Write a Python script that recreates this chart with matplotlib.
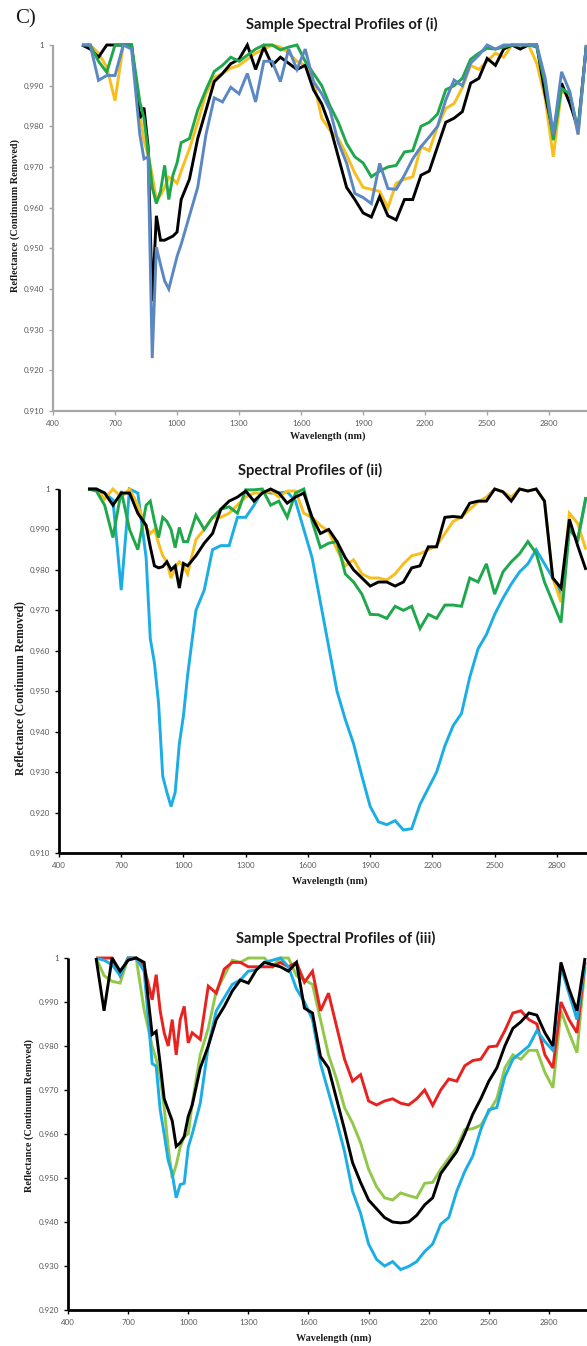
import numpy as np
import matplotlib
matplotlib.use('Agg')
import matplotlib.pyplot as plt
from matplotlib.ticker import FuncFormatter

# wavelengths (nm) shared by all profiles
wavelengths = [540, 580, 620, 660, 700, 740, 780, 820,
               840, 860, 880, 900, 920, 940, 960, 980, 1000,
               1020, 1060, 1100, 1140, 1180, 1220, 1260, 1300,
               1340, 1380, 1420, 1460, 1500, 1540, 1580, 1620,
               1660, 1700, 1740, 1780, 1820, 1860, 1900, 1940,
               1980, 2020, 2060, 2100, 2140, 2180, 2220, 2260,
               2300, 2340, 2380, 2420, 2460, 2500, 2540, 2580,
               2620, 2660, 2700, 2740, 2780, 2820, 2860, 2900,
               2940, 2980]

# (i)
p1_yellow = [1.0, 1.0, 0.998, 0.9946, 0.9863, 1.0, 1.0, 0.983,
             0.9765, 0.973, 0.968, 0.962, 0.963, 0.965, 0.9675, 0.967, 0.966,
             0.969, 0.9745, 0.981, 0.988, 0.992, 0.993, 0.9943, 0.995,
             0.9965, 0.998, 0.999, 1.0, 0.9995, 0.998, 0.996, 0.995,
             0.991, 0.982, 0.979, 0.977, 0.973, 0.9685, 0.965, 0.9645,
             0.964, 0.960, 0.966, 0.967, 0.9676, 0.975, 0.974, 0.980,
             0.9844, 0.9856, 0.9895, 0.995, 0.994, 0.996, 0.998, 0.997,
             1.0, 1.0, 1.0, 0.9955, 0.987, 0.9725, 0.989, 0.987,
             0.978, 1.0]
p1_black = [1.0, 0.999, 0.997, 1.0, 1.0, 1.0, 1.0, 0.982,
            0.9846, 0.975, 0.937, 0.958, 0.952, 0.952, 0.9525, 0.953, 0.954,
            0.962, 0.967, 0.977, 0.984, 0.991, 0.993, 0.9954, 0.9965,
            1.0, 0.994, 0.9995, 0.995, 0.997, 0.9955, 0.994, 0.995,
            0.989, 0.9855, 0.980, 0.9725, 0.965, 0.962, 0.9587, 0.9577,
            0.9627, 0.958, 0.957, 0.962, 0.962, 0.968, 0.969, 0.975,
            0.981, 0.982, 0.9836, 0.9906, 0.9918, 0.9967, 0.995, 0.999,
            1.0, 0.999, 1.0, 1.0, 0.988, 0.978, 0.9906, 0.9856,
            0.9795, 1.0]
p1_green = [1.0, 1.0, 0.996, 0.9933, 1.0, 1.0, 1.0, 0.986,
            0.982, 0.974, 0.965, 0.961, 0.964, 0.9704, 0.962, 0.968, 0.971,
            0.976, 0.977, 0.984, 0.989, 0.9935, 0.995, 0.997, 0.996,
            0.9975, 0.999, 1.0, 1.0, 0.9988, 0.9995, 1.0, 0.996,
            0.993, 0.990, 0.985, 0.981, 0.9758, 0.9725, 0.971, 0.9676,
            0.969, 0.970, 0.9704, 0.9737, 0.974, 0.980, 0.981, 0.983,
            0.989, 0.990, 0.9918, 0.9965, 0.998, 0.9992, 0.999, 0.9995,
            1.0, 1.0, 1.0, 0.9995, 0.9906, 0.9766, 0.9893, 0.988,
            0.979, 1.0]
p1_blue = [1.0, 1.0, 0.9913, 0.9925, 0.9925, 1.0, 0.999, 0.978,
           0.972, 0.9725, 0.923, 0.9503, 0.946, 0.942, 0.940, 0.944, 0.948,
           0.951, 0.958, 0.965, 0.978, 0.987, 0.986, 0.9896, 0.988,
           0.993, 0.986, 0.996, 0.996, 0.991, 0.999, 0.994, 0.999,
           0.991, 0.988, 0.984, 0.976, 0.971, 0.9635, 0.9625, 0.961,
           0.9709, 0.9647, 0.9645, 0.968, 0.972, 0.975, 0.9774, 0.980,
           0.9865, 0.9914, 0.990, 0.9955, 0.9975, 1.0, 0.999, 1.0,
           1.0, 1.0, 1.0, 1.0, 0.992, 0.978, 0.9934, 0.9885,
           0.978, 1.0]

# (ii)
p2_cyan = [1.0, 1.0, 0.999, 0.9973, 0.975, 1.0, 0.999, 0.983,
           0.963, 0.957, 0.947, 0.929, 0.925, 0.9215, 0.925, 0.937, 0.944,
           0.954, 0.970, 0.975, 0.985, 0.986, 0.986, 0.993, 0.993,
           0.996, 0.9995, 0.999, 0.999, 0.9993, 0.997, 0.990, 0.983,
           0.972, 0.961, 0.950, 0.943, 0.937, 0.929, 0.9215, 0.9177,
           0.917, 0.918, 0.9157, 0.916, 0.922, 0.926, 0.930, 0.9365,
           0.9415, 0.9445, 0.9535, 0.9605, 0.964, 0.969, 0.973, 0.9765,
           0.9795, 0.9815, 0.985, 0.9815, 0.978, 0.974, 0.991, 0.987,
           0.998, np.nan]
p2_yellow = [1.0, 1.0, 0.9975, 1.0, 0.998, 1.0, 0.996, 0.9905,
             0.989, 0.990, 0.9866, 0.9835, 0.982, 0.978, 0.9805, 0.982, 0.981,
             0.979, 0.9875, 0.990, 0.993, 0.993, 0.994, 0.996, 0.998,
             0.999, 0.999, 0.9995, 0.998, 0.9995, 0.9995, 0.994, 0.993,
             0.991, 0.9895, 0.985, 0.981, 0.9825, 0.979, 0.978, 0.978,
             0.9775, 0.979, 0.9815, 0.9835, 0.984, 0.985, 0.986, 0.989,
             0.992, 0.993, 0.995, 0.9968, 0.998, 1.0, 0.9993, 0.998,
             1.0, 0.9995, 1.0, 0.997, 0.978, 0.972, 0.994, 0.9915,
             0.985, np.nan]
p2_green = [1.0, 0.9995, 0.996, 0.988, 0.9995, 0.990, 0.985, 0.996,
            0.997, 0.992, 0.988, 0.993, 0.992, 0.990, 0.9855, 0.9905, 0.987,
            0.987, 0.9935, 0.990, 0.993, 0.995, 0.9956, 0.994, 0.9998,
            0.9998, 1.0, 0.996, 0.997, 0.993, 0.999, 1.0, 0.992,
            0.9855, 0.9866, 0.987, 0.979, 0.977, 0.974, 0.969, 0.9689,
            0.968, 0.971, 0.970, 0.971, 0.9655, 0.969, 0.968, 0.9713,
            0.9713, 0.971, 0.978, 0.977, 0.9815, 0.974, 0.9795, 0.982,
            0.984, 0.987, 0.9841, 0.977, 0.972, 0.967, 0.990, 0.9875,
            0.998, np.nan]
p2_black = [1.0, 1.0, 0.999, 0.996, 0.999, 0.999, 0.994, 0.991,
            0.9857, 0.981, 0.9805, 0.9808, 0.982, 0.980, 0.981, 0.9755, 0.9816,
            0.981, 0.9835, 0.9866, 0.989, 0.995, 0.997, 0.998, 0.9995,
            0.997, 0.999, 1.0, 0.999, 0.9965, 0.998, 0.999, 0.993,
            0.989, 0.990, 0.987, 0.983, 0.980, 0.978, 0.976, 0.977,
            0.977, 0.976, 0.977, 0.9805, 0.981, 0.9857, 0.9857, 0.993,
            0.9932, 0.993, 0.9965, 0.997, 0.997, 1.0, 0.9993, 0.997,
            1.0, 0.9995, 1.0, 0.997, 0.978, 0.9755, 0.9925, 0.986,
            0.980, np.nan]

# (iii)
p3_lgreen = [1.0, 0.996, 0.9947, 0.9943, 1.0, 1.0, 0.9882, 0.980,
             0.977, 0.973, 0.966, 0.957, 0.950, 0.953, 0.957, 0.9595, 0.960,
             0.967, 0.978, 0.984, 0.9925, 0.996, 0.9995, 0.999, 1.0,
             1.0, 1.0, 0.998, 1.0, 1.0, 0.996, 0.995, 0.994,
             0.986, 0.978, 0.9725, 0.966, 0.9625, 0.958, 0.952, 0.948,
             0.9455, 0.945, 0.9466, 0.946, 0.9455, 0.9488, 0.949, 0.952,
             0.9545, 0.957, 0.961, 0.9612, 0.962, 0.965, 0.968, 0.975,
             0.978, 0.977, 0.979, 0.979, 0.974, 0.9705, 0.988, 0.983,
             0.9785, 0.998]
p3_red = [1.0, 1.0, 1.0, 0.996, 1.0, 1.0, 0.998, 0.9905,
          0.9962, 0.988, 0.983, 0.980, 0.986, 0.978, 0.986, 0.989, 0.9807,
          0.983, 0.9815, 0.9936, 0.992, 0.9975, 0.999, 0.999, 0.998,
          0.998, 0.998, 0.998, 0.999, 0.998, 0.999, 0.9945, 0.997,
          0.988, 0.992, 0.9845, 0.977, 0.972, 0.9735, 0.9675, 0.9666,
          0.9675, 0.968, 0.967, 0.9666, 0.968, 0.970, 0.9665, 0.970,
          0.9725, 0.972, 0.9755, 0.9767, 0.977, 0.9798, 0.980, 0.9835,
          0.9875, 0.988, 0.986, 0.985, 0.978, 0.975, 0.990, 0.986,
          0.983, 0.999]
p3_cyan = [1.0, 0.9995, 0.9985, 0.996, 1.0, 1.0, 0.997, 0.976,
           0.9754, 0.9655, 0.960, 0.954, 0.951, 0.9455, 0.9485, 0.9488, 0.957,
           0.960, 0.967, 0.980, 0.988, 0.991, 0.994, 0.995, 0.997,
           0.9973, 0.999, 0.9995, 1.0, 0.998, 0.993, 0.990, 0.986,
           0.976, 0.9695, 0.963, 0.956, 0.947, 0.942, 0.935, 0.9315,
           0.930, 0.931, 0.9292, 0.9299, 0.931, 0.9333, 0.935, 0.9395,
           0.941, 0.947, 0.9515, 0.955, 0.961, 0.9655, 0.966, 0.973,
           0.977, 0.9785, 0.980, 0.9835, 0.981, 0.979, 0.998, 0.992,
           0.986, 0.999]
p3_black = [1.0, 0.988, 1.0, 0.997, 0.9995, 1.0, 0.999, 0.9826,
            0.9833, 0.976, 0.968, 0.9655, 0.963, 0.9572, 0.958, 0.9594, 0.964,
            0.9666, 0.975, 0.980, 0.986, 0.989, 0.9925, 0.995, 0.9943,
            0.9973, 0.999, 0.9985, 0.998, 0.997, 0.999, 0.9886, 0.9875,
            0.9776, 0.975, 0.968, 0.961, 0.9535, 0.949, 0.945, 0.943,
            0.941, 0.940, 0.9398, 0.940, 0.9415, 0.9439, 0.9455, 0.951,
            0.9535, 0.956, 0.960, 0.9645, 0.968, 0.972, 0.975, 0.980,
            0.984, 0.9855, 0.9875, 0.987, 0.983, 0.980, 0.999, 0.993,
            0.988, 1.0]

x_ticks = [400, 700, 1000, 1300, 1600, 1900, 2200, 2500, 2800]

W, H = 587, 1346
fig = plt.figure(figsize=(W / 100, H / 100), dpi=100)

serif = ['Liberation Serif', 'DejaVu Serif']


def fx(px):
    return px / W


def fy(py):
    return 1 - py / H


def style_axis(ax, x_right, y_low, spine_color, spine_lw, y_step=0.01):
    ax.set_xlim(400, x_right)
    ax.set_ylim(y_low, 1.0)
    for s in ['top', 'right']:
        ax.spines[s].set_visible(False)
    for s in ['left', 'bottom']:
        ax.spines[s].set_color(spine_color)
        ax.spines[s].set_linewidth(spine_lw)
        ax.spines[s].set_capstyle('butt')
    ax.set_xticks(x_ticks)
    yt = np.round(np.arange(y_low, 1.0001, y_step), 3)
    ax.set_yticks(yt)
    ax.yaxis.set_major_formatter(FuncFormatter(lambda v, p: '1' if v >= 0.9999 else '%.3f' % v))
    ax.tick_params(axis='both', direction='out', length=3, width=1, color=spine_color,
                   labelsize=5.8, labelcolor='#595959', pad=3.5)
    for lab in ax.get_xticklabels() + ax.get_yticklabels():
        lab.set_family('Lato')
    ax.set_facecolor('none')


def plot_lines(ax, series):
    for vals, col in series:
        ax.plot(wavelengths, vals, color=col, lw=2.1, clip_on=False,
                solid_joinstyle='miter', solid_capstyle='butt')


# panel (i)
ax1 = fig.add_axes([fx(53), fy(411), fx(587 - 53), (411 - 45) / H])
style_axis(ax1, 2983, 0.91, '#a6a6a6', 1.6)
plot_lines(ax1, [(p1_yellow, '#f7be1e'), (p1_black, '#000000'),
                 (p1_green, '#1ea84b'), (p1_blue, '#5b87c3')])

# panel (ii)
ax2 = fig.add_axes([fx(59), fy(853), fx(587 - 59), (853 - 489) / H])
style_axis(ax2, 2945, 0.91, '#000000', 2.0)
plot_lines(ax2, [(p2_cyan, '#1bade5'), (p2_yellow, '#f7be1e'),
                 (p2_green, '#1ea84b'), (p2_black, '#000000')])

# panel (iii)
ax3 = fig.add_axes([fx(68), fy(1310), fx(587 - 68), (1310 - 958) / H])
style_axis(ax3, 2990, 0.92, '#000000', 2.0)
plot_lines(ax3, [(p3_lgreen, '#92c84a'), (p3_red, '#e8221f'),
                 (p3_cyan, '#1bade5'), (p3_black, '#000000')])

# titles
title_kw = dict(family='Lato', weight='bold', size=10.6, color='#1a1a1a', ha='center', va='center')
fig.text(fx(342), fy(24), 'Sample Spectral Profiles of (i)', **title_kw)
fig.text(fx(310), fy(470), 'Spectral Profiles of (ii)', **title_kw)
fig.text(fx(336), fy(938), 'Sample Spectral Profiles of (iii)', **title_kw)

# axis labels
xl_kw = dict(family=serif, weight='bold', size=7.3, color='#1a1a1a', ha='center', va='center')
fig.text(fx(328), fy(436), 'Wavelength (nm)', **xl_kw)
fig.text(fx(330), fy(881), 'Wavelength (nm)', **xl_kw)
fig.text(fx(334), fy(1338), 'Wavelength (nm)', **xl_kw)

yl_kw = dict(family=serif, weight='bold', color='#1a1a1a', ha='center', va='center', rotation=90)
fig.text(fx(15), fy(216), 'Reflectance (Continuum Removed)', size=7.3, **yl_kw)
fig.text(fx(20), fy(688), 'Reflectance (Continuum Removed)', size=8.4, **yl_kw)
fig.text(fx(29), fy(1115), 'Reflectance (Continuum Removed)', size=7.3, **yl_kw)

fig.text(fx(15), fy(19), 'C)', family=serif, size=15, color='#1a1a1a', ha='left', va='center')

fig.savefig('out.png', dpi=100, facecolor='white')
